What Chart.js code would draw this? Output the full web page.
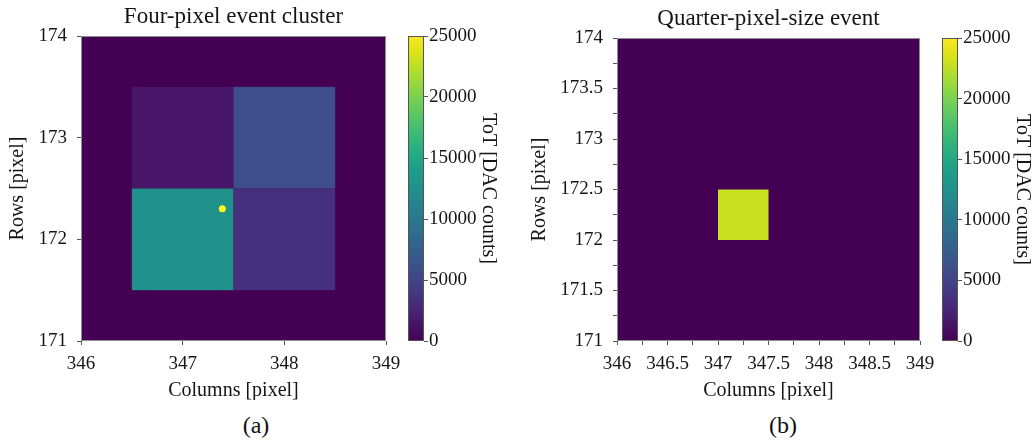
<!DOCTYPE html>
<html>
<head>
<meta charset="utf-8">
<script src="https://cdn.jsdelivr.net/npm/chart.js@4.4.1/dist/chart.umd.min.js"></script>
<style>
  html, body { margin:0; padding:0; background:#fff; overflow:hidden; }
  #wrap { position:relative; width:1034px; height:440px; }
  #wrap canvas { position:absolute; top:0; }
  .tag { position:absolute; top:425px; transform:translate(-50%,-50%); font:24px 'Liberation Serif', serif; color:#111; }
</style>
</head>
<body>
<div id="wrap">
  <canvas id="heat-a" width="414" height="400" style="left:0px"></canvas>
  <canvas id="bar-a" width="100" height="400" style="left:400px"></canvas>
  <canvas id="heat-b" width="428" height="400" style="left:520px"></canvas>
  <canvas id="bar-b" width="100" height="400" style="left:934px"></canvas>
  <div class="tag" style="left:256px">(a)</div>
  <div class="tag" style="left:783px">(b)</div>
</div>
<script>
// plot extent (pixel coordinates of the detector) and colour range
const colRange = [346, 349];
const rowRange = [171, 174];
const totRange = [0, 25000];
const totTicks = [0, 5000, 10000, 15000, 20000, 25000];

// (a) four-pixel cluster: cell centres and ToT values
const cellColA = [347, 348, 347, 348];
const cellRowA = [173, 173, 172, 172];
const cellTotA = [1500, 5900, 12500, 3500];
const cellSizeA = 1;
// reconstructed hit position
const hitColA = [347.39];
const hitRowA = [172.30];

// (b) quarter-pixel-size event
const cellColB = [347.25];
const cellRowB = [172.25];
const cellTotB = [22900];
const cellSizeB = 0.5;

(function(){
    const viridisStops = ['#440154','#471365','#482475','#463480','#414487','#3b528b','#355f8d','#2f6c8e','#2a788e','#25848e',
        '#21918c','#1e9c89','#22a884','#2fb47c','#44bf70','#5ec962','#7ad151','#9bd93c','#bddf26','#dfe318','#fde725'];

    function hexRgb(h){ return [1,3,5].map(i => parseInt(h.substr(i,2),16)); }
    function viridis(t){
        t = Math.min(1, Math.max(0, t));
        const f = t * (viridisStops.length - 1);
        const i = Math.min(viridisStops.length - 2, Math.floor(f));
        const a = hexRgb(viridisStops[i]), b = hexRgb(viridisStops[i+1]);
        const k = f - i;
        return 'rgb(' + a.map((v,j) => Math.round(v + (b[j]-v)*k)).join(',') + ')';
    }
    const norm = v => (v - totRange[0]) / (totRange[1] - totRange[0]);

    Chart.defaults.font.family = "'Liberation Serif', serif";
    Chart.defaults.font.size = 19;
    Chart.defaults.color = '#151515';
    Chart.defaults.animation = false;

    // paints the zero background and the hit cells through the chart scales
    const heatCells = {
        id:'heatCells',
        beforeDraw(chart, args, opts){
            const xs = chart.scales.x, ys = chart.scales.y, ctx = chart.ctx;
            const rect = (x0,x1,y0,y1,color) => {
                const px0 = xs.getPixelForValue(x0), px1 = xs.getPixelForValue(x1);
                const py0 = ys.getPixelForValue(y1), py1 = ys.getPixelForValue(y0);
                ctx.fillStyle = color;
                ctx.fillRect(px0, py0, px1 - px0, py1 - py0);
            };
            ctx.save();
            rect(colRange[0], colRange[1], rowRange[0], rowRange[1], viridis(norm(0)));
            opts.cols.forEach((c,i) => {
                const h = opts.size / 2, r = opts.rows[i];
                rect(c - h, c + h, r - h, r + h, viridis(norm(opts.tots[i])));
            });
            ctx.restore();
        },
        afterDraw(chart){
            const a = chart.chartArea, ctx = chart.ctx;
            ctx.save();
            ctx.strokeStyle = '#8f8f8f';
            ctx.lineWidth = 1;
            ctx.strokeRect(Math.round(a.left)+0.5, Math.round(a.top)+0.5, Math.round(a.right-a.left)-1, Math.round(a.bottom-a.top)-1);
            ctx.restore();
        }
    };

    // colour bar drawn along its own value scale
    const colorBar = {
        id:'colorBar',
        beforeDatasetsDraw(chart){
            const ys = chart.scales.y, a = chart.chartArea, ctx = chart.ctx;
            const p0 = ys.getPixelForValue(totRange[0]), p1 = ys.getPixelForValue(totRange[1]);
            const g = ctx.createLinearGradient(0, p0, 0, p1);
            viridisStops.forEach((c,i) => g.addColorStop(i/(viridisStops.length-1), c));
            ctx.save();
            ctx.fillStyle = g;
            ctx.fillRect(a.left, p1, a.right - a.left, p0 - p1);
            ctx.strokeStyle = '#555';
            ctx.lineWidth = 1;
            ctx.strokeRect(Math.round(a.left)+0.5, Math.round(p1)+0.5, Math.round(a.right-a.left)-1, Math.round(p0-p1)-1);
            ctx.restore();
        }
    };

    const halfLabel = v => Math.abs(v*2 - Math.round(v*2)) < 1e-6 ? String(+v.toFixed(1)) : '';

    function heatChart(id, o){
        return new Chart(document.getElementById(id), {
            type:'scatter',
            data:{ datasets: o.datasets },
            plugins:[heatCells],
            options:{
                responsive:false,
                layout:{ padding:{ left:0, right:28, top:0, bottom:0 } },
                plugins:{
                    legend:{ display:false },
                    tooltip:{ enabled:false },
                    title:{ display:true, text:o.title, fullSize:false, color:'#151515',
                        font:{ size:23, weight:'normal', lineHeight:1.2 }, padding:{ top:o.top - 32.4, bottom:4.8 } },
                    heatCells:{ cols:o.cols, rows:o.rows, tots:o.tots, size:o.size }
                },
                scales:{
                    x:{
                        type:'linear', min:colRange[0], max:colRange[1],
                        afterFit(s){ s.height = 59; },
                        border:{ display:false },
                        grid:{ drawOnChartArea:false, drawTicks:true, tickLength:4, color:'#555' },
                        ticks:{ stepSize:o.step, autoSkip:false, maxRotation:0, padding:8, callback:halfLabel },
                        title:{ display:true, text:'Columns [pixel]', font:{ size:20, lineHeight:1 }, padding:{ top:0, bottom:-1 } }
                    },
                    y:{
                        type:'linear', min:rowRange[0], max:rowRange[1],
                        afterFit(s){ s.width = o.yw; },
                        border:{ display:false },
                        grid:{ drawOnChartArea:false, drawTicks:true, tickLength:4, color:'#555' },
                        ticks:{ stepSize:o.step, autoSkip:false, padding:10, callback:halfLabel },
                        title:{ display:true, text:'Rows [pixel]', font:{ size:20 }, padding:{ top:o.yt, bottom:0 } }
                    }
                }
            }
        });
    }

    function barChart(id, top){
        return new Chart(document.getElementById(id), {
            type:'scatter',
            data:{ datasets:[] },
            plugins:[colorBar],
            options:{
                responsive:false,
                layout:{ padding:{ left:8, right:0, top:top, bottom:59 } },
                plugins:{ legend:{ display:false }, tooltip:{ enabled:false } },
                scales:{
                    x:{ display:false, min:0, max:1 },
                    y:{
                        type:'linear', position:'right', min:totRange[0], max:totRange[1],
                        afterBuildTicks(s){ s.ticks = totTicks.map(v => ({ value:v })); },
                        afterFit(s){ s.width = 76; },
                        border:{ display:false },
                        grid:{ drawOnChartArea:false, drawTicks:true, tickLength:4, color:'#555' },
                        ticks:{ padding:1, callback:v => String(v) },
                        title:{ display:true, text:'ToT [DAC counts]', font:{ size:20 }, padding:{ top:0, bottom:0 } }
                    }
                }
            }
        });
    }

    heatChart('heat-a', {
        title:'Four-pixel event cluster', top:36, yw:81, yt:6, step:1,
        cols:cellColA, rows:cellRowA, tots:cellTotA, size:cellSizeA,
        datasets:[{ data: hitColA.map((c,i) => ({ x:c, y:hitRowA[i] })), pointRadius:3.5,
            backgroundColor:'#ffff1a', borderWidth:0 }]
    });
    barChart('bar-a', 36);

    heatChart('heat-b', {
        title:'Quarter-pixel-size event', top:38, yw:97, yt:8, step:0.25,
        cols:cellColB, rows:cellRowB, tots:cellTotB, size:cellSizeB,
        datasets:[]
    });
    barChart('bar-b', 38);
})();
</script>
</body>
</html>
